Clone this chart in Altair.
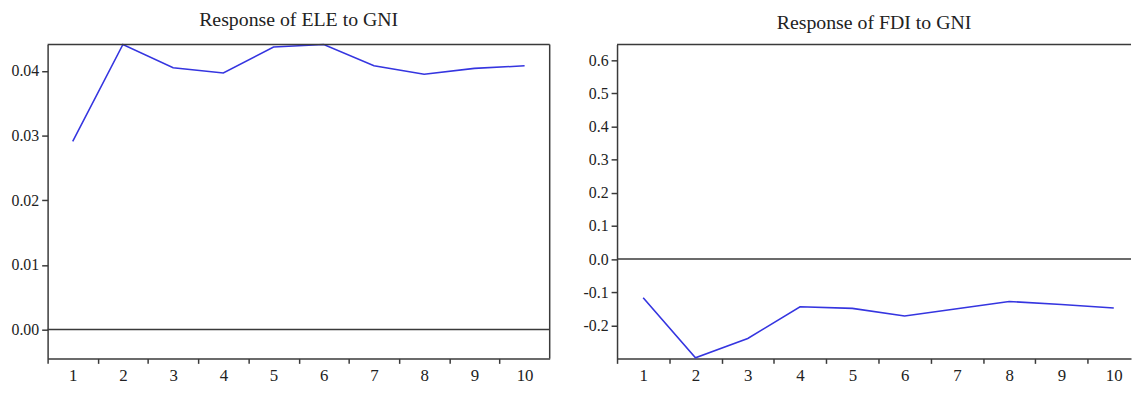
import altair as alt
import pandas as pd

# ---- data ----
periods = [1, 2, 3, 4, 5, 6, 7, 8, 9, 10]
ele_response = [0.0291, 0.0441, 0.0405, 0.0397, 0.0437, 0.0441, 0.0408, 0.0395, 0.0404, 0.0408]
fdi_response = [-0.117, -0.298, -0.240, -0.144, -0.149, -0.172, -0.150, -0.128, -0.137, -0.148]
left_yticks = [0.00, 0.01, 0.02, 0.03, 0.04]
right_yticks = [-0.2, -0.1, 0.0, 0.1, 0.2, 0.3, 0.4, 0.5, 0.6]
left_title = "Response of ELE to GNI"
right_title = "Response of FDI to GNI"

FONT = "Liberation Serif"
LINE = "#3535e0"
AXC = "#3a3a3a"
TXT = "#222222"
H = 317


def panel(values, title, ydomain, yticks, yfmt, W, xmax, xtick_vals, right_border):
    band = W / (xmax - 0.5)
    df = pd.DataFrame({"period": periods, "value": values})
    base = alt.Chart(df)
    xenc = alt.X(
        "period:Q",
        scale=alt.Scale(domain=[0.5, xmax], nice=False, zero=False),
        axis=alt.Axis(
            values=xtick_vals,
            tickOffset=-band / 2,
            labelOffset=band / 2,
            labelExpr="datum.value > 10 ? '' : datum.label",
            title=None,
            grid=False,
            tickSize=5,
            labelPadding=4,
            labelFlush=False,
            labelOverlap=False,
            labelFont=FONT,
            labelFontSize=17,
            labelColor=TXT,
        ),
    )
    yenc = alt.Y(
        "value:Q",
        scale=alt.Scale(domain=ydomain, nice=False, zero=False),
        axis=alt.Axis(
            values=yticks,
            labelExpr="replace(format(datum.value, '%s'), '\u2212', '-')" % yfmt,
            title=None,
            grid=False,
            tickSize=6,
            labelPadding=3,
            minExtent=40,
            maxExtent=40,
            labelFlush=False,
            labelOverlap=False,
            labelFont=FONT,
            labelFontSize=16,
            labelColor=TXT,
        ),
    )
    line = base.mark_line(color=LINE, strokeWidth=1.6, clip=False).encode(x=xenc, y=yenc)
    zero = alt.Chart(pd.DataFrame({"value": [0.0]})).mark_rule(
        color=AXC, strokeWidth=1.5
    ).encode(y=yenc)
    one = pd.DataFrame({"a": [0]})
    top = alt.Chart(one).mark_rule(color=AXC, strokeWidth=1.5).encode(
        x=alt.value(0), x2=alt.value(W), y=alt.value(0)
    )
    layers = [zero, line, top]
    if right_border:
        rb = alt.Chart(one).mark_rule(color=AXC, strokeWidth=1.5).encode(
            x=alt.value(W), y=alt.value(0), y2=alt.value(H)
        )
        layers.append(rb)
    return alt.layer(*layers).properties(
        width=W,
        height=H,
        title=alt.TitleParams(
            title,
            font=FONT,
            fontSize=20,
            fontWeight="normal",
            color=TXT,
            anchor="middle",
            offset=11,
        ),
    )


left = panel(ele_response, left_title, [-0.00447, 0.0441], left_yticks, ".2f",
             507, 10.5, list(range(1, 12)), True)
right = panel(fdi_response, right_title, [-0.3, 0.648], right_yticks, ".1f",
              519, 0.5 + 519 / 52.8, list(range(1, 11)), False)

chart = (
    alt.hconcat(left, right, spacing=27)
    .properties(padding=0, background="white")
    .configure_view(stroke=None)
    .configure_axis(
        domainColor=AXC,
        domainWidth=1.5,
        tickColor=AXC,
        tickWidth=1.5,
        labelFont=FONT,
        labelFontSize=16,
        labelColor=TXT,
    )
)

chart.save("out.html", embed_options={"renderer": "svg", "actions": False})
